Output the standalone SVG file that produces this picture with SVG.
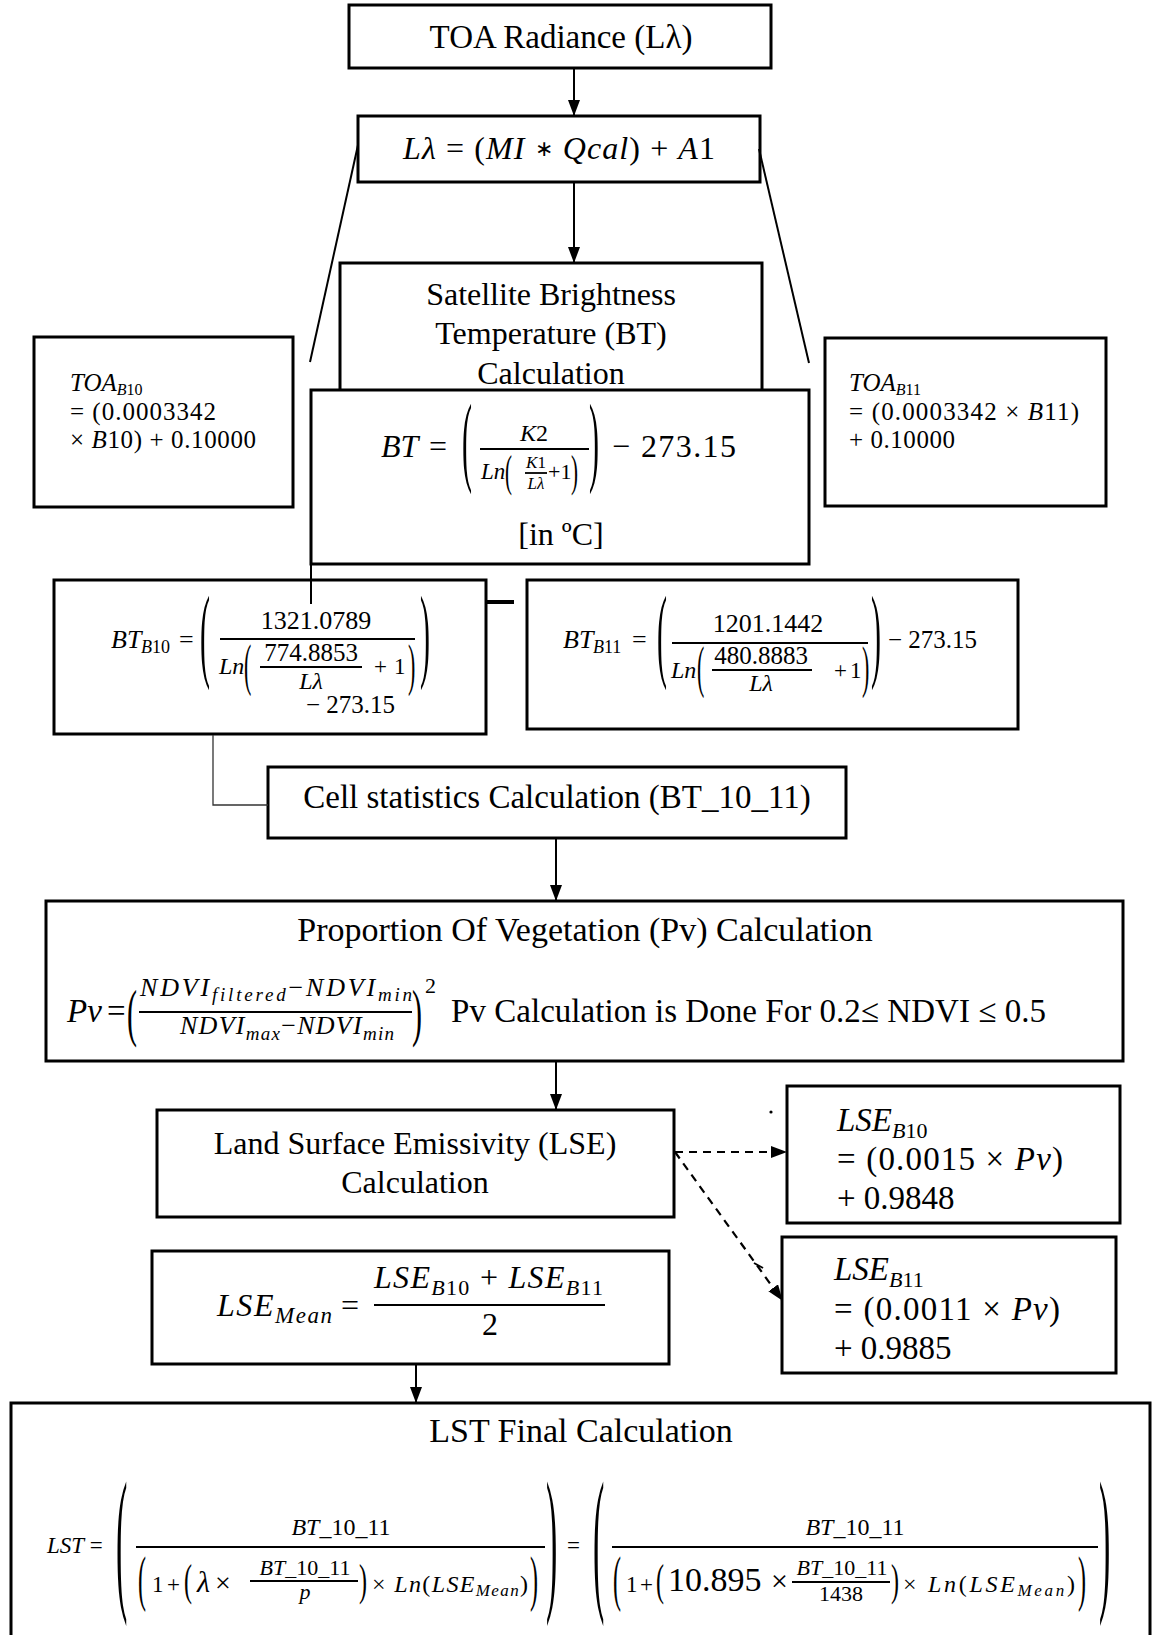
<svg xmlns="http://www.w3.org/2000/svg" width="1152" height="1635" viewBox="0 0 1152 1635">
<defs>
<marker id="ah" markerUnits="userSpaceOnUse" viewBox="0 0 16 12" markerWidth="16" markerHeight="12" refX="15" refY="6" orient="auto"><path d="M0,0 L16,6 L0,12 z" fill="#000"/></marker>
<style>
.box{fill:#fff;stroke:#000;stroke-width:3}
.t{font-family:"Liberation Serif","Times New Roman",serif;fill:#000}
.i{font-style:italic}
.n{font-style:normal}
.c{text-anchor:middle}
.ln{stroke:#000;stroke-width:2;fill:none}
.fr{stroke:#000;stroke-width:1.8}
.ds{stroke:#000;stroke-width:2.2;stroke-dasharray:8 6;fill:none}
</style>
</defs>
<rect width="1152" height="1635" fill="#fff"/>

<g id="toa-radiance">
<rect class="box" x="349" y="5" width="422" height="63"/>
<text class="t c" x="561" y="48" font-size="33">TOA Radiance (Lλ)</text>
</g>

<g id="l-lambda">
<rect class="box" x="358" y="116" width="402" height="66"/>
<text class="t" x="403" y="159" font-size="32" textLength="312"><tspan class="i">Lλ</tspan> = (<tspan class="i">MI</tspan> <tspan font-size="22" dy="-3">∗</tspan><tspan dy="3"> </tspan><tspan class="i">Qcal</tspan>) + <tspan class="i">A</tspan>1</text>
</g>

<g id="satellite-bt">
<rect class="box" x="340" y="263" width="422" height="140"/>
<text class="t c" font-size="32"><tspan x="551" y="305">Satellite Brightness</tspan><tspan x="551" y="344">Temperature (BT)</tspan><tspan x="551" y="384">Calculation</tspan></text>
</g>

<g id="toa-b10">
<rect class="box" x="34" y="337" width="259" height="170"/>
<text class="t" font-size="25"><tspan x="70" y="391" class="i">TOA</tspan><tspan class="i" font-size="16" dy="4">B</tspan><tspan font-size="16">10</tspan></text>
<text class="t" x="70" y="420" font-size="25" textLength="146">= (0.0003342</text>
<text class="t" x="70" y="448" font-size="25" textLength="186">× <tspan class="i">B</tspan>10) + 0.10000</text>
</g>

<g id="toa-b11">
<rect class="box" x="825" y="338" width="281" height="168"/>
<text class="t" font-size="25"><tspan x="849" y="391" class="i">TOA</tspan><tspan class="i" font-size="16" dy="4">B</tspan><tspan font-size="16">11</tspan></text>
<text class="t" x="849" y="420" font-size="25" textLength="230">= (0.0003342  × <tspan class="i">B</tspan>11)</text>
<text class="t" x="849" y="448" font-size="25" textLength="106">+ 0.10000</text>
</g>

<g id="bt-formula">
<rect class="box" x="311" y="390" width="498" height="174"/>
<text class="t i" x="381" y="457" font-size="32">BT</text>
<text class="t" x="429" y="457" font-size="32">=</text>
<text class="t" font-size="30" transform="translate(462,472.6) scale(1,3.283)">(</text>
<text class="t c" x="534" y="441" font-size="24"><tspan class="i">K</tspan>2</text>
<line class="fr" x1="480" y1="449" x2="589" y2="449"/>
<text class="t i" x="481" y="479" font-size="23">Ln</text>
<text class="t" font-size="21" transform="translate(505,486.1) scale(1,2.121)">(</text>
<text class="t c" x="536" y="468" font-size="17"><tspan class="i">K</tspan>1</text>
<line class="fr" x1="525" y1="473" x2="547" y2="473" stroke-width="1.4"/>
<text class="t c i" x="536" y="489" font-size="17">Lλ</text>
<text class="t" x="548" y="479" font-size="22">+1</text>
<text class="t" font-size="21" transform="translate(571,486.1) scale(1,2.121)">)</text>
<text class="t" font-size="30" transform="translate(589,472.6) scale(1,3.283)">)</text>
<text class="t" x="612" y="457" font-size="32" textLength="124">− 273.15</text>
<text class="t c" x="561" y="545" font-size="32">[in ºC]</text>
</g>

<g id="bt-b10">
<rect class="box" x="54" y="580" width="432" height="154"/>
<text class="t i" x="111" y="648" font-size="26">BT</text>
<text class="t" x="141" y="653" font-size="18"><tspan class="i">B</tspan>10</text>
<text class="t" x="179" y="648" font-size="26">=</text>
<text class="t" font-size="30" transform="translate(200,667.5) scale(1,3.478)">(</text>
<text class="t c" x="316" y="629" font-size="26">1321.0789</text>
<line class="fr" x1="220" y1="639" x2="415" y2="639"/>
<text class="t i" x="219" y="674" font-size="24">Ln</text>
<text class="t" font-size="22" transform="translate(244,684) scale(1,2.557)">(</text>
<text class="t c" x="311" y="661" font-size="25">774.8853</text>
<line class="fr" x1="260" y1="667" x2="362" y2="667" stroke-width="1.5"/>
<text class="t c i" x="311" y="689" font-size="24">Lλ</text>
<text class="t" x="374" y="674" font-size="23">+</text>
<text class="t" x="394" y="674" font-size="23">1</text>
<text class="t" font-size="22" transform="translate(408,684) scale(1,2.557)">)</text>
<text class="t" font-size="30" transform="translate(420,667.5) scale(1,3.478)">)</text>
<text class="t" x="306" y="713" font-size="25">− 273.15</text>
</g>

<g id="bt-b11">
<rect class="box" x="527" y="580" width="491" height="149"/>
<text class="t i" x="563" y="648" font-size="26">BT</text>
<text class="t" x="593" y="653" font-size="18"><tspan class="i">B</tspan>11</text>
<text class="t" x="632" y="648" font-size="26">=</text>
<text class="t" font-size="30" transform="translate(657,667.5) scale(1,3.478)">(</text>
<text class="t c" x="768" y="632" font-size="26">1201.1442</text>
<line class="fr" x1="672" y1="643" x2="868" y2="643"/>
<text class="t i" x="671" y="678" font-size="24">Ln</text>
<text class="t" font-size="22" transform="translate(697,686) scale(1,2.557)">(</text>
<text class="t c" x="761" y="664" font-size="25">480.8883</text>
<line class="fr" x1="712" y1="670" x2="812" y2="670" stroke-width="1.5"/>
<text class="t c i" x="761" y="691" font-size="24">Lλ</text>
<text class="t" x="834" y="678" font-size="23">+</text>
<text class="t" x="850" y="678" font-size="23">1</text>
<text class="t" font-size="22" transform="translate(862,686) scale(1,2.557)">)</text>
<text class="t" font-size="30" transform="translate(871,667.5) scale(1,3.478)">)</text>
<text class="t" x="888" y="648" font-size="25">− 273.15</text>
</g>

<g id="cell-statistics">
<rect class="box" x="268" y="767" width="578" height="71"/>
<text class="t c" x="557" y="808" font-size="33">Cell statistics Calculation (BT_10_11)</text>
</g>

<g id="proportion-vegetation">
<rect class="box" x="46" y="901" width="1077" height="160"/>
<text class="t c" x="585" y="941" font-size="34">Proportion Of Vegetation (Pv) Calculation</text>
<text class="t i" x="67" y="1022" font-size="33">Pv</text>
<text class="t" x="107" y="1022" font-size="33">=</text>
<text class="t" font-size="30" transform="translate(127,1033.8) scale(1,2.11)">(</text>
<text class="t i" x="140" y="996" font-size="26" textLength="272">NDVI<tspan font-size="19" dy="5">filtered</tspan><tspan dy="-5" class="n">−</tspan>NDVI<tspan font-size="19" dy="5">min</tspan></text>
<line class="fr" x1="139" y1="1012" x2="412" y2="1012" stroke-width="2"/>
<text class="t i" x="180" y="1034" font-size="26" textLength="214">NDVI<tspan font-size="19" dy="6">max</tspan><tspan dy="-6" class="n">−</tspan>NDVI<tspan font-size="19" dy="6">min</tspan></text>
<text class="t" font-size="30" transform="translate(412,1033.8) scale(1,2.11)">)</text>
<text class="t" x="425" y="993" font-size="22">2</text>
<text class="t" x="451" y="1022" font-size="33" textLength="595">Pv Calculation is Done For 0.2≤  NDVI ≤ 0.5</text>
</g>

<g id="lse-calculation">
<rect class="box" x="157" y="1110" width="517" height="107"/>
<text class="t c" font-size="32"><tspan x="415" y="1154">Land Surface Emissivity (LSE)</tspan><tspan x="415" y="1193">Calculation</tspan></text>
</g>

<g id="lse-b10">
<rect class="box" x="787" y="1086" width="333" height="137"/>
<text class="t" font-size="33"><tspan x="837" y="1131" class="i">LSE</tspan><tspan class="i" font-size="22" dy="7">B</tspan><tspan font-size="22">10</tspan></text>
<text class="t" x="837" y="1170" font-size="33" textLength="226">= (0.0015 × <tspan class="i">Pv</tspan>)</text>
<text class="t" x="837" y="1209" font-size="33">+ 0.9848</text>
</g>

<g id="lse-b11">
<rect class="box" x="782" y="1237" width="334" height="136"/>
<text class="t" font-size="33"><tspan x="834" y="1280" class="i">LSE</tspan><tspan class="i" font-size="22" dy="7">B</tspan><tspan font-size="22">11</tspan></text>
<text class="t" x="834" y="1320" font-size="33" textLength="226">= (0.0011 × <tspan class="i">Pv</tspan>)</text>
<text class="t" x="834" y="1359" font-size="33">+ 0.9885</text>
</g>

<g id="lse-mean">
<rect class="box" x="152" y="1251" width="517" height="113"/>
<text class="t" x="217" y="1316" font-size="32" textLength="115"><tspan class="i">LSE</tspan><tspan class="i" font-size="23" dy="7">Mean</tspan></text>
<text class="t" x="341" y="1316" font-size="32">=</text>
<text class="t" x="374" y="1288" font-size="32" textLength="229"><tspan class="i">LSE</tspan><tspan class="i" font-size="22" dy="7">B</tspan><tspan font-size="22">10</tspan><tspan dy="-7"> + </tspan><tspan class="i">LSE</tspan><tspan class="i" font-size="22" dy="7">B</tspan><tspan font-size="22">11</tspan></text>
<line class="fr" x1="374" y1="1305" x2="605" y2="1305" stroke-width="2.5"/>
<text class="t c" x="490" y="1335" font-size="32">2</text>
</g>

<g id="lst-final">
<rect class="box" x="11" y="1403" width="1139" height="240"/>
<text class="t c" x="581" y="1442" font-size="34">LST Final Calculation</text>
<text class="t" x="47" y="1553" font-size="23"><tspan class="i">LST</tspan> =</text>
<text class="t" font-size="34" transform="translate(116,1592) scale(1,4.656)">(</text>
<text class="t c" x="341" y="1535" font-size="24"><tspan class="i">BT</tspan>_10_11</text>
<line class="fr" x1="136" y1="1547" x2="545" y2="1547"/>
<text class="t" font-size="24" transform="translate(138,1599) scale(1,2.589)">(</text>
<text class="t" x="152" y="1592" font-size="23">1</text>
<text class="t" x="167" y="1592" font-size="23">+</text>
<text class="t" font-size="24" transform="translate(184,1595.1) scale(1,1.856)">(</text>
<text class="t i" x="197" y="1592" font-size="30">λ</text>
<text class="t" x="215" y="1592" font-size="28">×</text>
<text class="t c" x="305" y="1575" font-size="22"><tspan class="i">BT</tspan>_10_11</text>
<line class="fr" x1="250" y1="1581" x2="358" y2="1581" stroke-width="1.5"/>
<text class="t c i" x="305" y="1599" font-size="22">p</text>
<text class="t" font-size="24" transform="translate(359,1595.1) scale(1,1.856)">)</text>
<text class="t" x="372" y="1592" font-size="24" textLength="156">× <tspan class="i">Ln</tspan>(<tspan class="i">LSE</tspan><tspan class="i" font-size="17" dy="4">Mean</tspan><tspan dy="-4">)</tspan></text>
<text class="t" font-size="24" transform="translate(530,1599) scale(1,2.589)">)</text>
<text class="t" font-size="34" transform="translate(546,1592) scale(1,4.656)">)</text>
<text class="t" x="567" y="1553" font-size="23">=</text>
<text class="t" font-size="34" transform="translate(593,1592) scale(1,4.656)">(</text>
<text class="t c" x="855" y="1535" font-size="24"><tspan class="i">BT</tspan>_10_11</text>
<line class="fr" x1="612" y1="1547" x2="1098" y2="1547"/>
<text class="t" font-size="24" transform="translate(613,1599) scale(1,2.589)">(</text>
<text class="t" x="626" y="1592" font-size="23">1</text>
<text class="t" x="640" y="1592" font-size="23">+</text>
<text class="t" font-size="24" transform="translate(656,1595.1) scale(1,1.856)">(</text>
<text class="t" x="668" y="1591" font-size="34">10.895</text>
<text class="t" x="771" y="1591" font-size="30">×</text>
<text class="t c" x="842" y="1575" font-size="22"><tspan class="i">BT</tspan>_10_11</text>
<line class="fr" x1="792" y1="1582" x2="890" y2="1582" stroke-width="1.5"/>
<text class="t c" x="841" y="1601" font-size="22">1438</text>
<text class="t" font-size="24" transform="translate(891,1595.1) scale(1,1.856)">)</text>
<text class="t" x="903" y="1592" font-size="24" textLength="172">× <tspan class="i">Ln</tspan>(<tspan class="i">LSE</tspan><tspan class="i" font-size="17" dy="4">Mean</tspan><tspan dy="-4">)</tspan></text>
<text class="t" font-size="24" transform="translate(1078,1599) scale(1,2.589)">)</text>
<text class="t" font-size="34" transform="translate(1099,1592) scale(1,4.656)">)</text>
</g>

<g id="connectors">
<line class="ln" x1="574" y1="68" x2="574" y2="115" marker-end="url(#ah)"/>
<line class="ln" x1="574" y1="182" x2="574" y2="262" marker-end="url(#ah)"/>
<line class="ln" x1="358" y1="145" x2="310" y2="362"/>
<line class="ln" x1="759" y1="149" x2="809" y2="363"/>
<line class="ln" x1="311" y1="500" x2="311" y2="604"/>
<line stroke="#000" stroke-width="4" x1="486" y1="602" x2="514" y2="602"/>
<polyline fill="none" stroke="#333" stroke-width="1.3" points="213,735 213,805 268,805"/>
<line class="ln" x1="556" y1="838" x2="556" y2="900" marker-end="url(#ah)"/>
<line class="ln" x1="556" y1="1061" x2="556" y2="1109" marker-end="url(#ah)"/>
<line class="ds" x1="675" y1="1152" x2="786" y2="1152" marker-end="url(#ah)"/>
<line class="ds" x1="675" y1="1152" x2="782" y2="1300" marker-end="url(#ah)"/>
<line class="ln" x1="416" y1="1364" x2="416" y2="1402" marker-end="url(#ah)"/>
<circle cx="771" cy="1112" r="1.6" fill="#000"/>
<line stroke="#000" stroke-width="2" x1="754" y1="1263" x2="763" y2="1268"/>
</g>
</svg>
